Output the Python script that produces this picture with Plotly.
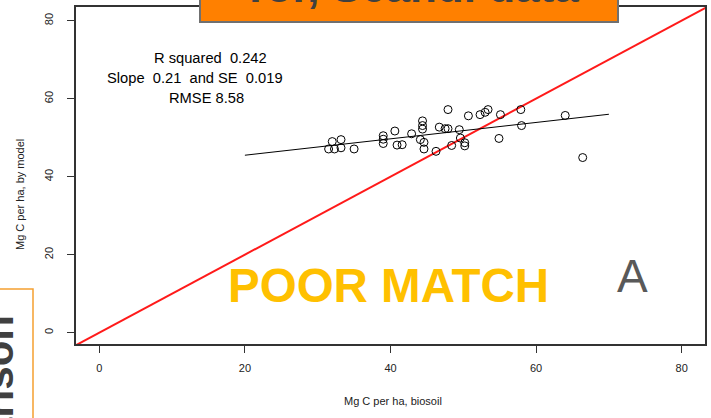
import plotly.graph_objects as go

# ---- data ----
biosoil = [32.0, 33.2, 33.2, 31.5, 32.3, 35.0, 39.0, 39.0, 39.0, 40.6,
           40.9, 41.6, 42.9, 44.4, 44.4, 44.4, 44.1, 44.6, 44.6, 46.25,
           46.7, 47.5, 47.9, 47.9, 48.4, 49.45, 49.6, 50.2, 50.2, 50.7,
           52.3, 53.0, 53.4, 54.9, 55.1, 57.9, 58.0, 64.0, 66.4]
model = [49.0, 49.5, 47.4, 47.1, 47.1, 47.1, 50.5, 49.6, 48.5, 51.7,
         48.1, 48.2, 51.0, 54.3, 53.1, 52.2, 49.5, 48.8, 47.1, 46.5,
         52.7, 52.3, 52.3, 57.2, 48.0, 52.05, 49.9, 48.7, 47.9, 55.6,
         55.9, 56.5, 57.2, 49.8, 55.9, 57.2, 53.1, 55.7, 44.9]
fit_slope = 0.21
fit_intercept = 41.3
fit_x = [20, 70]
one_to_one_x = [-10, 100]
x_ticks = [0, 20, 40, 60, 80]
y_ticks = [0, 20, 40, 60, 80]
stats_lines = ["R squared  0.242", "Slope  0.21  and SE  0.019", "RMSE 8.58"]

W, H = 711, 418
L, R, T, B = 76, 6, 7, 74


def px(x):
    return (x - L) / (W - L - R)


def py(y):
    return (H - B - y) / (H - T - B)


FONT = "Liberation Sans, Arial"

fig = go.Figure()
fig.add_trace(go.Scatter(x=one_to_one_x, y=one_to_one_x, mode="lines",
                         line=dict(color="#ff1a1a", width=2), hoverinfo="skip"))
fig.add_trace(go.Scatter(x=fit_x, y=[fit_intercept + fit_slope * v for v in fit_x],
                         mode="lines", line=dict(color="black", width=1)))
fig.add_trace(go.Scatter(x=biosoil, y=model, mode="markers",
                         marker=dict(symbol="circle-open", size=8, color="black",
                                     line=dict(width=1))))

axis_common = dict(showline=True, mirror=True, linecolor="#333", linewidth=1.5,
                   ticks="outside", ticklen=7, tickcolor="#333", tickwidth=1.2,
                   showgrid=False, zeroline=False, automargin=False,
                   tickfont=dict(family=FONT, size=11, color="#222"))
fig.update_xaxes(range=[-3.2, 83.2], tickvals=x_ticks, ticklabelstandoff=6, **axis_common)
fig.update_yaxes(range=[-2.9, 83.5], tickvals=y_ticks, tickangle=-90,
                 ticklabelstandoff=10, **axis_common)


def note(cx, cy, text, size, color, bold=False, angle=0, xa="center", ya="middle"):
    return dict(x=px(cx), y=py(cy), xref="paper", yref="paper",
                text=f"<b>{text}</b>" if bold else text, showarrow=False,
                xanchor=xa, yanchor=ya, textangle=angle,
                font=dict(family=FONT, size=size, color=color))


ann = []
for txt, (cx, cy) in zip(stats_lines, [(210, 58), (195, 78), (206, 98)]):
    ann.append(note(cx, cy, txt, 14.7, "black"))
ann.append(note(388, 285, "POOR MATCH", 47.5, "#FFC000", bold=True))
ann.append(note(632, 276, "A", 46, "#595959"))
ann.append(note(393, 401, "Mg C per ha, biosoil", 11, "#222"))
ann.append(note(20, 195, "Mg C per ha, by model", 11, "#222", angle=-90))
# top banner text (cut off at top)
ann.append(note(410, 13, "Tor, Scandi data", 44, "#404040", bold=True, ya="bottom"))
# left box text (cut off)
ann.append(note(-27, 313, "Comparison", 42, "#404040", bold=True, angle=-90, xa="left", ya="top"))

shapes = [
    dict(type="rect", xref="paper", yref="paper", x0=px(200), x1=px(618), y0=py(22), y1=py(-20),
         fillcolor="#FF8000", line=dict(color="#707070", width=2), layer="above"),
    dict(type="rect", xref="paper", yref="paper", x0=px(-20), x1=px(33), y0=py(440), y1=py(289),
         fillcolor="rgba(255,255,255,0)", line=dict(color="#F5A030", width=1.5), layer="above"),
]

fig.update_layout(width=W, height=H, margin=dict(l=L, r=R, t=T, b=B, autoexpand=False),
                  paper_bgcolor="white", plot_bgcolor="white", showlegend=False,
                  annotations=ann, shapes=shapes)
fig.write_html("out.html", config={"displayModeBar": False},
               post_script="document.body.style.margin='0';")
